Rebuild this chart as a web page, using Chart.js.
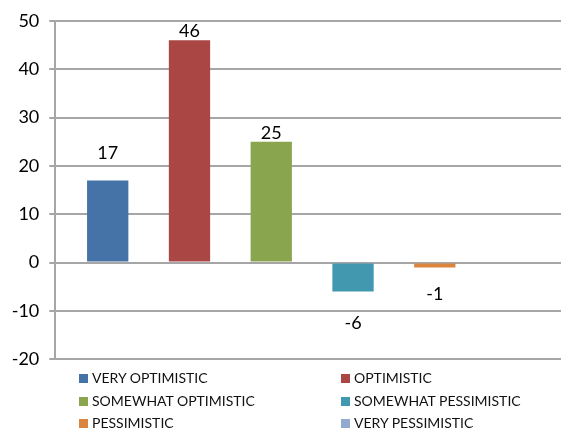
<!DOCTYPE html>
<html>
<head>
<meta charset="utf-8">
<script src="https://cdn.jsdelivr.net/npm/chart.js@4.4.1/dist/chart.umd.min.js"></script>
<style>
  html, body { margin: 0; padding: 0; background: #fff; overflow: hidden; }
  body { width: 561px; height: 429px; position: relative; }
  #wrap { position: absolute; left: 0; top: 0; width: 569px; height: 380px; }
  #legend { position: absolute; left: 0; top: 367px; width: 561px; font-family: Lato, "Liberation Sans", sans-serif; font-size: 14px; color: #111; }
  .item { position: absolute; height: 22px; line-height: 22px; white-space: nowrap; }
  .box { display: inline-block; width: 9px; height: 9px; margin-right: 4px; vertical-align: 0px; }
</style>
</head>
<body>
<div id="wrap"><canvas id="chart"></canvas></div>
<div id="legend"></div>
<script>
// Survey outlook: net share per answer
const answers = ['VERY OPTIMISTIC', 'OPTIMISTIC', 'SOMEWHAT OPTIMISTIC', 'SOMEWHAT PESSIMISTIC', 'PESSIMISTIC', 'VERY PESSIMISTIC'];
const values = [17, 46, 25, -6, -1, null];
const colors = ['#4572A7', '#AA4643', '#89A54E', '#4198AF', '#DB843D', '#93A9CF'];
const yTicks = [-20, -10, 0, 10, 20, 30, 40, 50];

// distance (px) between each value label and the end of its bar
const labelGap = [27, 9, 9, 32, 27, 9];

const valueLabels = {
  id: 'valueLabels',
  afterDatasetsDraw(chart) {
    const ctx = chart.ctx;
    ctx.save();
    ctx.font = '18px Lato, "Liberation Sans", sans-serif';
    ctx.fillStyle = '#000';
    ctx.textAlign = 'center';
    ctx.textBaseline = 'middle';
    chart.data.datasets.forEach((ds, i) => {
      const v = ds.data[0];
      if (v === null || v === undefined) return;
      const bar = chart.getDatasetMeta(i).data[0];
      const y = v >= 0 ? bar.y - labelGap[i] : bar.y + labelGap[i];
      ctx.fillText(String(v), bar.x, y);
    });
    ctx.restore();
  }
};

const chart = new Chart(document.getElementById('chart'), {
  type: 'bar',
  data: {
    labels: [''],
    datasets: answers.map((name, i) => ({
      label: name,
      data: [values[i]],
      backgroundColor: colors[i],
      borderWidth: 0,
      categoryPercentage: 0.955,
      barPercentage: 0.505
    }))
  },
  options: {
    responsive: true,
    maintainAspectRatio: false,
    animation: false,
    layout: { padding: { top: 21, left: 1.7, right: 0, bottom: 4 } },
    plugins: { legend: { display: false }, tooltip: { enabled: false } },
    scales: {
      x: { display: false },
      y: {
        min: -20, max: 50,
        afterBuildTicks(axis) { axis.ticks = yTicks.map(v => ({ value: v })); },
        border: { display: true, color: '#a6a6a6', width: 2 },
        grid: { color: '#a6a6a6', lineWidth: 2, tickLength: 6, drawTicks: true },
        ticks: {
          padding: 10,
          color: '#000',
          font: { family: 'Lato, "Liberation Sans", sans-serif', size: 18 }
        }
      }
    }
  },
  plugins: [valueLabels]
});

// two-column legend built from the chart's own legend items
const legendEl = document.getElementById('legend');
chart.options.plugins.legend.labels.generateLabels(chart).forEach((item, i) => {
  const col = i % 2, row = Math.floor(i / 2);
  const div = document.createElement('div');
  div.className = 'item';
  div.style.left = (col === 0 ? 79 : 341) + 'px';
  div.style.top = (row * 22.5) + 'px';
  const box = document.createElement('span');
  box.className = 'box';
  box.style.background = item.fillStyle;
  div.appendChild(box);
  div.appendChild(document.createTextNode(item.text));
  legendEl.appendChild(div);
});
</script>
</body>
</html>
